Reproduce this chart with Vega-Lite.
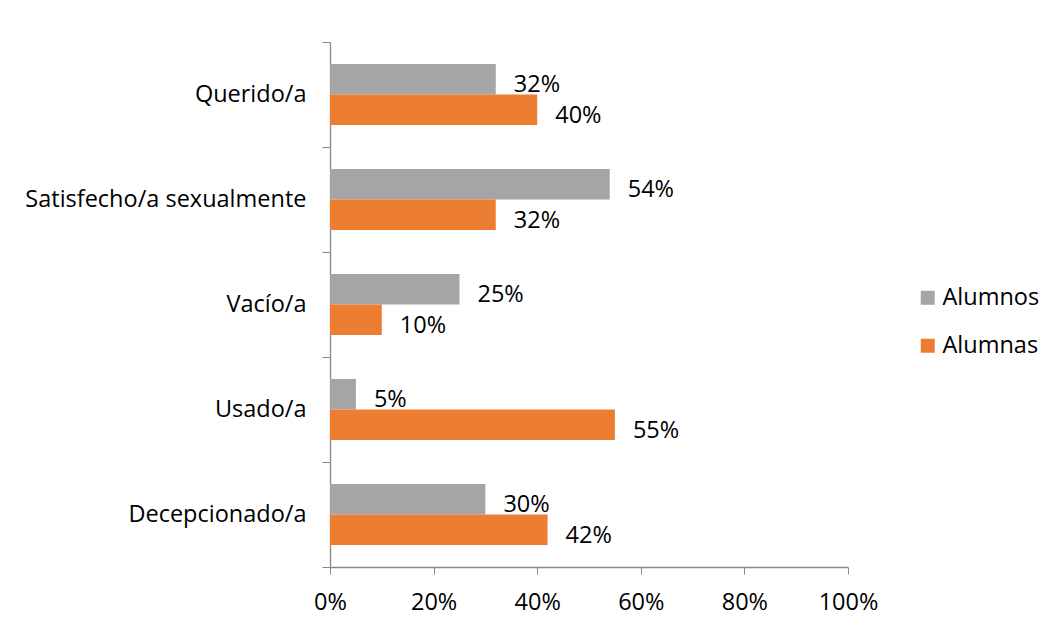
{
  "$schema": "https://vega.github.io/schema/vega-lite/v6.json",
  "autosize": {"type": "none"},
  "width": 518,
  "height": 525,
  "padding": {"left": 330, "top": 42, "right": 204, "bottom": 59},
  "background": "white",
  "config": {
    "view": {"stroke": null},
    "font": "Open Sans",
    "axis": {"domainColor": "#898989", "tickColor": "#898989", "labelColor": "#000000", "labelFont": "Open Sans", "labelFontSize": 23.5, "grid": false}
  },
  "data": {
    "values": [
      {"cat": "Querido/a", "grupo": "Alumnos", "v": 0.32},
      {"cat": "Querido/a", "grupo": "Alumnas", "v": 0.40},
      {"cat": "Satisfecho/a sexualmente", "grupo": "Alumnos", "v": 0.54},
      {"cat": "Satisfecho/a sexualmente", "grupo": "Alumnas", "v": 0.32},
      {"cat": "Vacío/a", "grupo": "Alumnos", "v": 0.25},
      {"cat": "Vacío/a", "grupo": "Alumnas", "v": 0.10},
      {"cat": "Usado/a", "grupo": "Alumnos", "v": 0.05},
      {"cat": "Usado/a", "grupo": "Alumnas", "v": 0.55},
      {"cat": "Decepcionado/a", "grupo": "Alumnos", "v": 0.30},
      {"cat": "Decepcionado/a", "grupo": "Alumnas", "v": 0.42}
    ]
  },
  "encoding": {
    "y": {
      "field": "cat", "type": "nominal", "sort": null,
      "scale": {"paddingInner": 0, "paddingOuter": 0},
      "axis": {"title": null, "tickBand": "extent", "tickSize": 8, "labelPadding": 16, "labelLimit": 400, "domainWidth": 1.3}
    },
    "yOffset": {
      "field": "grupo", "type": "nominal", "sort": ["Alumnos", "Alumnas"],
      "scale": {"paddingInner": 0, "paddingOuter": 0.72}
    },
    "x": {
      "field": "v", "type": "quantitative",
      "scale": {"domain": [0, 1], "nice": false},
      "axis": {"title": null, "format": ".0%", "values": [0, 0.2, 0.4, 0.6, 0.8, 1], "tickSize": 7, "labelPadding": 16, "labelFlush": false, "domainWidth": 1.3}
    }
  },
  "layer": [
    {
      "mark": {"type": "bar"},
      "encoding": {
        "color": {
          "field": "grupo", "type": "nominal",
          "scale": {"domain": ["Alumnos", "Alumnas"], "range": ["#A5A5A5", "#ED7D31"]},
          "legend": {
            "title": null, "orient": "none", "legendX": 586, "legendY": 244,
            "symbolType": "square", "symbolSize": 196, "symbolStrokeWidth": 0,
            "labelFontSize": 23.5, "labelFont": "Open Sans", "labelColor": "#000000",
            "rowPadding": 23, "labelOffset": 3
          }
        }
      }
    },
    {
      "mark": {"type": "text", "align": "left", "baseline": "middle", "dx": 18, "dy": 6, "fontSize": 23.5, "font": "Open Sans", "color": "#000000"},
      "encoding": {
        "text": {"field": "v", "type": "quantitative", "format": ".0%"}
      }
    }
  ]
}
